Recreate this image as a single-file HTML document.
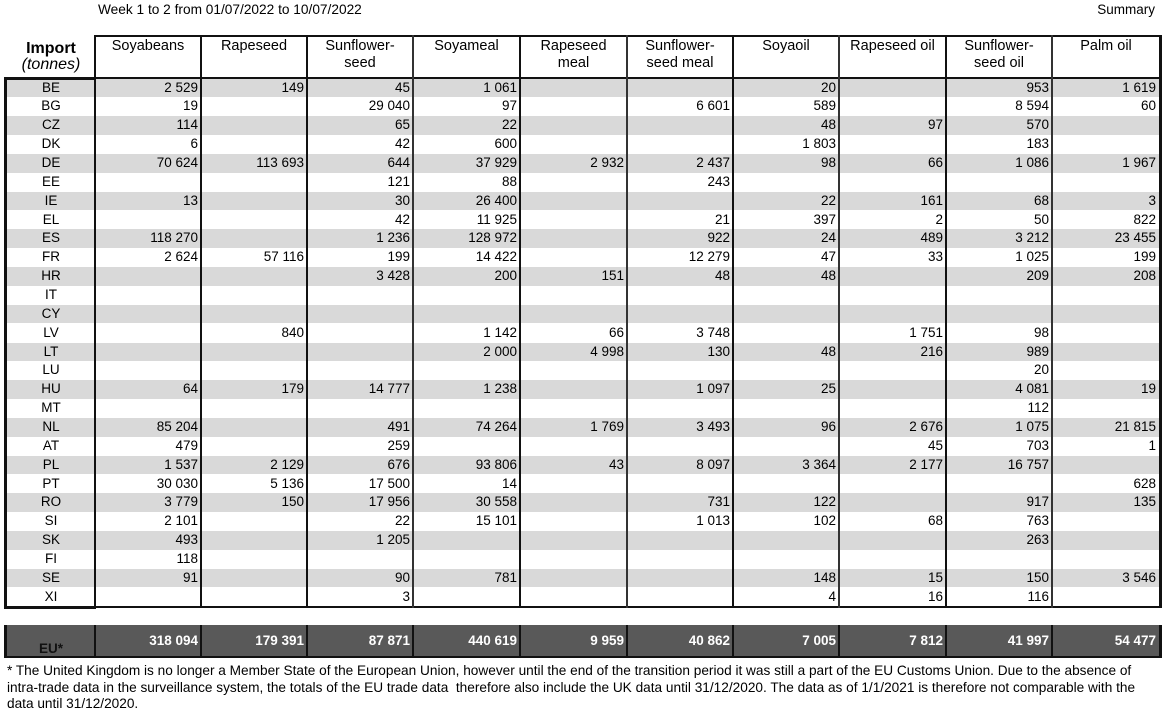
<!DOCTYPE html>
<html>
<head>
<meta charset="utf-8">
<style>
html,body{margin:0;padding:0;}
body{width:1165px;height:720px;overflow:hidden;background:#fff;position:relative;font-family:"Liberation Sans",Arial,sans-serif;color:#000;}
.abs{position:absolute;}
.title{position:absolute;left:98px;top:2px;font-size:13.7px;line-height:16px;white-space:nowrap;}
.summary{position:absolute;right:10px;top:2px;font-size:13.5px;line-height:16px;}
.imp{position:absolute;left:5px;top:41px;width:92px;text-align:center;font-size:16px;line-height:16px;}
.imp b{font-weight:bold;}
.imp i{font-style:italic;}
.hd{position:absolute;top:38px;text-align:center;font-size:14.5px;line-height:17px;}
.r{position:absolute;left:5px;width:1155px;height:18.5px;display:flex;font-size:13.5px;line-height:18.5px;}
.r.g{background:#d9d9d9;}
.r span{flex:none;box-sizing:border-box;text-align:right;padding-right:3px;white-space:nowrap;height:18.5px;}
.r span:nth-child(1){width:90px;text-align:center;padding-right:0;padding-left:2px;}
.r span:nth-child(2),.r span:nth-child(3),.r span:nth-child(4){width:106px;}
.r span:nth-child(5),.r span:nth-child(6){width:107px;}
.r span:nth-child(7),.r span:nth-child(8){width:106px;}
.r span:nth-child(9){width:107px;}
.r span:nth-child(10){width:106px;}
.r span:nth-child(11){width:108px;padding-right:4px;}
.eu{position:absolute;left:4px;top:624.5px;width:1158px;height:32px;background:#595959;}
.eur{position:absolute;left:5px;top:624.5px;width:1155px;height:32px;display:flex;font-size:13.5px;font-weight:bold;color:#fff;line-height:31px;}
.eur span{flex:none;box-sizing:border-box;text-align:right;padding-right:3px;white-space:nowrap;}
.eur span:nth-child(1){width:90px;text-align:center;color:#111;padding-right:0;padding-left:2px;line-height:47px;}
.eur span:nth-child(2),.eur span:nth-child(3),.eur span:nth-child(4){width:106px;}
.eur span:nth-child(5),.eur span:nth-child(6){width:107px;}
.eur span:nth-child(7),.eur span:nth-child(8){width:106px;}
.eur span:nth-child(9){width:107px;}
.eur span:nth-child(10){width:106px;}
.eur span:nth-child(11){width:108px;padding-right:4px;}
.vl{position:absolute;width:2px;background:#111;}
.hl{position:absolute;height:2px;background:#111;}
.foot{position:absolute;left:7px;top:663px;font-size:13.65px;line-height:16.5px;white-space:nowrap;}
</style>
</head>
<body>
<div class="title">Week 1 to 2 from 01/07/2022 to 10/07/2022</div>
<div class="summary">Summary</div>

<div class="imp"><b>Import</b><br><i>(tonnes)</i></div>

<div class="hd" style="left:95px;width:106px;">Soyabeans</div>
<div class="hd" style="left:201px;width:106px;">Rapeseed</div>
<div class="hd" style="left:307px;width:106px;">Sunflower-<br>seed</div>
<div class="hd" style="left:413px;width:107px;">Soyameal</div>
<div class="hd" style="left:520px;width:107px;">Rapeseed<br>meal</div>
<div class="hd" style="left:627px;width:106px;">Sunflower-<br>seed meal</div>
<div class="hd" style="left:733px;width:106px;">Soyaoil</div>
<div class="hd" style="left:839px;width:107px;">Rapeseed oil</div>
<div class="hd" style="left:946px;width:106px;">Sunflower-<br>seed oil</div>
<div class="hd" style="left:1052px;width:108px;">Palm oil</div>

<div class="r g" style="top:78.6px"><span>BE</span><span>2 529</span><span>149</span><span>45</span><span>1 061</span><span></span><span></span><span>20</span><span></span><span>953</span><span>1 619</span></div>
<div class="r" style="top:97.46px"><span>BG</span><span>19</span><span></span><span>29 040</span><span>97</span><span></span><span>6 601</span><span>589</span><span></span><span>8 594</span><span>60</span></div>
<div class="r g" style="top:116.31px"><span>CZ</span><span>114</span><span></span><span>65</span><span>22</span><span></span><span></span><span>48</span><span>97</span><span>570</span><span></span></div>
<div class="r" style="top:135.17px"><span>DK</span><span>6</span><span></span><span>42</span><span>600</span><span></span><span></span><span>1 803</span><span></span><span>183</span><span></span></div>
<div class="r g" style="top:154.03px"><span>DE</span><span>70 624</span><span>113 693</span><span>644</span><span>37 929</span><span>2 932</span><span>2 437</span><span>98</span><span>66</span><span>1 086</span><span>1 967</span></div>
<div class="r" style="top:172.89px"><span>EE</span><span></span><span></span><span>121</span><span>88</span><span></span><span>243</span><span></span><span></span><span></span><span></span></div>
<div class="r g" style="top:191.74px"><span>IE</span><span>13</span><span></span><span>30</span><span>26 400</span><span></span><span></span><span>22</span><span>161</span><span>68</span><span>3</span></div>
<div class="r" style="top:210.6px"><span>EL</span><span></span><span></span><span>42</span><span>11 925</span><span></span><span>21</span><span>397</span><span>2</span><span>50</span><span>822</span></div>
<div class="r g" style="top:229.46px"><span>ES</span><span>118 270</span><span></span><span>1 236</span><span>128 972</span><span></span><span>922</span><span>24</span><span>489</span><span>3 212</span><span>23 455</span></div>
<div class="r" style="top:248.31px"><span>FR</span><span>2 624</span><span>57 116</span><span>199</span><span>14 422</span><span></span><span>12 279</span><span>47</span><span>33</span><span>1 025</span><span>199</span></div>
<div class="r g" style="top:267.17px"><span>HR</span><span></span><span></span><span>3 428</span><span>200</span><span>151</span><span>48</span><span>48</span><span></span><span>209</span><span>208</span></div>
<div class="r" style="top:286.03px"><span>IT</span><span></span><span></span><span></span><span></span><span></span><span></span><span></span><span></span><span></span><span></span></div>
<div class="r g" style="top:304.89px"><span>CY</span><span></span><span></span><span></span><span></span><span></span><span></span><span></span><span></span><span></span><span></span></div>
<div class="r" style="top:323.74px"><span>LV</span><span></span><span>840</span><span></span><span>1 142</span><span>66</span><span>3 748</span><span></span><span>1 751</span><span>98</span><span></span></div>
<div class="r g" style="top:342.6px"><span>LT</span><span></span><span></span><span></span><span>2 000</span><span>4 998</span><span>130</span><span>48</span><span>216</span><span>989</span><span></span></div>
<div class="r" style="top:361.46px"><span>LU</span><span></span><span></span><span></span><span></span><span></span><span></span><span></span><span></span><span>20</span><span></span></div>
<div class="r g" style="top:380.31px"><span>HU</span><span>64</span><span>179</span><span>14 777</span><span>1 238</span><span></span><span>1 097</span><span>25</span><span></span><span>4 081</span><span>19</span></div>
<div class="r" style="top:399.17px"><span>MT</span><span></span><span></span><span></span><span></span><span></span><span></span><span></span><span></span><span>112</span><span></span></div>
<div class="r g" style="top:418.03px"><span>NL</span><span>85 204</span><span></span><span>491</span><span>74 264</span><span>1 769</span><span>3 493</span><span>96</span><span>2 676</span><span>1 075</span><span>21 815</span></div>
<div class="r" style="top:436.89px"><span>AT</span><span>479</span><span></span><span>259</span><span></span><span></span><span></span><span></span><span>45</span><span>703</span><span>1</span></div>
<div class="r g" style="top:455.74px"><span>PL</span><span>1 537</span><span>2 129</span><span>676</span><span>93 806</span><span>43</span><span>8 097</span><span>3 364</span><span>2 177</span><span>16 757</span><span></span></div>
<div class="r" style="top:474.6px"><span>PT</span><span>30 030</span><span>5 136</span><span>17 500</span><span>14</span><span></span><span></span><span></span><span></span><span></span><span>628</span></div>
<div class="r g" style="top:493.46px"><span>RO</span><span>3 779</span><span>150</span><span>17 956</span><span>30 558</span><span></span><span>731</span><span>122</span><span></span><span>917</span><span>135</span></div>
<div class="r" style="top:512.31px"><span>SI</span><span>2 101</span><span></span><span>22</span><span>15 101</span><span></span><span>1 013</span><span>102</span><span>68</span><span>763</span><span></span></div>
<div class="r g" style="top:531.17px"><span>SK</span><span>493</span><span></span><span>1 205</span><span></span><span></span><span></span><span></span><span></span><span>263</span><span></span></div>
<div class="r" style="top:550.03px"><span>FI</span><span>118</span><span></span><span></span><span></span><span></span><span></span><span></span><span></span><span></span><span></span></div>
<div class="r g" style="top:568.89px"><span>SE</span><span>91</span><span></span><span>90</span><span>781</span><span></span><span></span><span>148</span><span>15</span><span>150</span><span>3 546</span></div>
<div class="r" style="top:587.74px"><span>XI</span><span></span><span></span><span>3</span><span></span><span></span><span></span><span>4</span><span>16</span><span>116</span><span></span></div>

<!-- header lines -->
<div class="hl" style="left:94px;top:35px;width:1068px;height:2px;"></div>
<div class="hl" style="left:4px;top:77px;width:1158px;height:2px;"></div>
<div class="hl" style="left:4px;top:76.5px;width:92px;height:3px;"></div>
<!-- bottom line -->
<div class="hl" style="left:4px;top:605.5px;width:1158px;height:2.5px;"></div>
<div class="hl" style="left:4px;top:605.5px;width:92px;height:3px;"></div>

<!-- vertical lines body + header -->
<div class="vl" style="left:4px;top:76.5px;height:532px;width:3px;"></div>
<div class="vl" style="left:94px;top:35px;height:573px;"></div>
<div class="vl" style="left:200px;top:35px;height:573px;"></div>
<div class="vl" style="left:306px;top:35px;height:573px;"></div>
<div class="vl" style="left:412px;top:35px;height:573px;background:#333;"></div>
<div class="vl" style="left:519px;top:35px;height:573px;"></div>
<div class="vl" style="left:626px;top:35px;height:573px;background:#333;"></div>
<div class="vl" style="left:732px;top:35px;height:573px;"></div>
<div class="vl" style="left:838px;top:35px;height:573px;background:#333;"></div>
<div class="vl" style="left:945px;top:35px;height:573px;"></div>
<div class="vl" style="left:1051px;top:35px;height:573px;background:#333;"></div>
<div class="vl" style="left:1159px;top:35px;height:573px;width:3px;"></div>

<!-- EU row -->
<div class="eu"></div>
<div class="eur"><span>EU*</span><span>318 094</span><span>179 391</span><span>87 871</span><span>440 619</span><span>9 959</span><span>40 862</span><span>7 005</span><span>7 812</span><span>41 997</span><span>54 477</span></div>
<div class="hl" style="left:4px;top:655.5px;width:1158px;height:2px;"></div>
<div class="vl" style="left:4px;top:624.5px;height:33px;width:3px;"></div>
<div class="vl" style="left:94px;top:624.5px;height:33px;"></div>
<div class="vl" style="left:200px;top:624.5px;height:33px;"></div>
<div class="vl" style="left:306px;top:624.5px;height:33px;"></div>
<div class="vl" style="left:412px;top:624.5px;height:33px;"></div>
<div class="vl" style="left:519px;top:624.5px;height:33px;"></div>
<div class="vl" style="left:626px;top:624.5px;height:33px;"></div>
<div class="vl" style="left:732px;top:624.5px;height:33px;"></div>
<div class="vl" style="left:838px;top:624.5px;height:33px;"></div>
<div class="vl" style="left:945px;top:624.5px;height:33px;"></div>
<div class="vl" style="left:1051px;top:624.5px;height:33px;"></div>
<div class="vl" style="left:1159px;top:624.5px;height:33px;width:3px;"></div>

<div class="foot">* The United Kingdom is no longer a Member State of the European Union, however until the end of the transition period it was still a part of the EU Customs Union. Due to the absence of<br>intra-trade data in the surveillance system, the totals of the EU trade data&nbsp; therefore also include the UK data until 31/12/2020. The data as of 1/1/2021 is therefore not comparable with the<br>data until 31/12/2020.</div>
</body>
</html>
